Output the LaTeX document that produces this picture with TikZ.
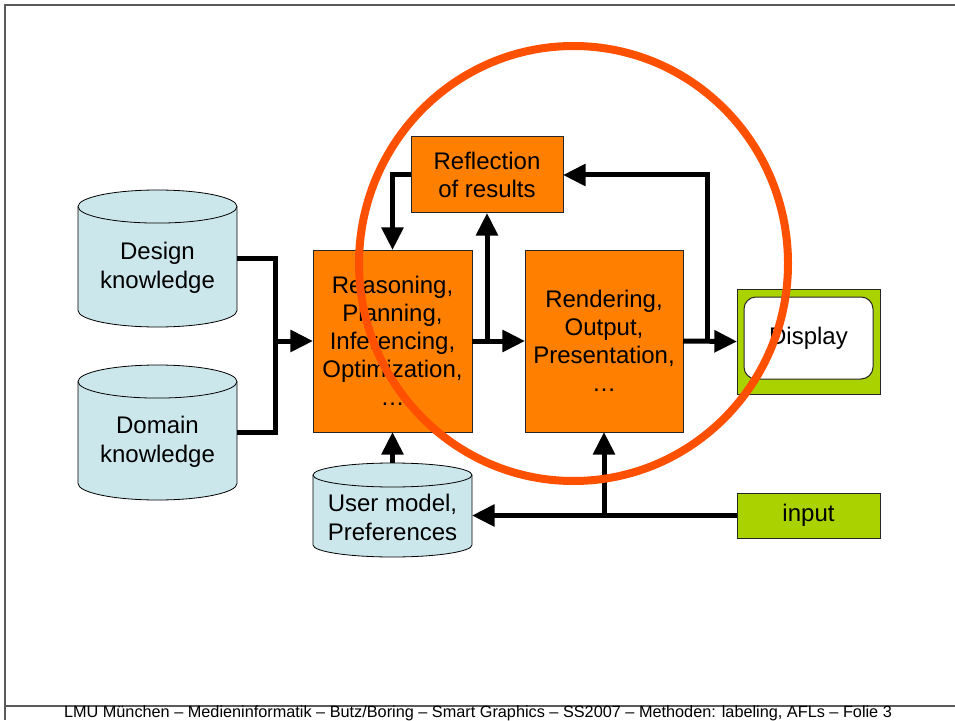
\documentclass[tikz,border=0pt]{standalone}
\usepackage{fontspec}
\setmainfont{Liberation Sans}
\usetikzlibrary{arrows.meta}

\definecolor{procorange}{RGB}{255,128,0}
\definecolor{dbblue}{RGB}{204,231,236}
\definecolor{iogreen}{RGB}{170,210,0}
\definecolor{ringred}{RGB}{255,80,0}
\definecolor{framegray}{RGB}{90,90,90}

% cylinder around a named node: #1 node, #2 y radius of the ends
\newcommand\dbcyl[2]{%
  \path[fill=dbblue,draw=black,line width=0.6pt] ([yshift=-#2]#1.north west) -- ([yshift=#2]#1.south west)
    arc[start angle=180,end angle=360,x radius=59.625pt,y radius=#2]
    -- ([yshift=-#2]#1.north east)
    arc[start angle=0,end angle=180,x radius=59.625pt,y radius=#2] -- cycle;
  \draw[line width=0.6pt] ([yshift=-#2]#1.north west)
    arc[start angle=180,end angle=360,x radius=59.625pt,y radius=#2];}
\newcommand\lowtext[1]{\raisebox{-7.5pt}[\height][\depth]{\renewcommand\arraystretch{1.04}\begin{tabular}{@{}c@{}}#1\end{tabular}}}

\begin{document}
\begin{tikzpicture}[x=0.75pt,y=-0.75pt,
  node font={\fontsize{18pt}{21pt}\selectfont},
  dbase/.style={shape=rectangle,minimum width=119.25pt,inner sep=0,outer sep=0},
  proc/.style={shape=rectangle,fill=procorange,draw=black!85,line width=0.75pt,align=center,inner sep=0,outer sep=0},
  io/.style={shape=rectangle,fill=iogreen,draw=black!85,line width=0.75pt,inner sep=0,outer sep=0},
  link/.style={line width=3.75pt},
  flow/.style={line width=3.75pt,-{Triangle[length=17pt,width=16pt]}}]
  \useasboundingbox (0,0) rectangle (955,720);
  % Slide frame
  \draw[framegray,line width=1.2pt] (955,5) -- (5,5) -- (5,720);
  \draw[framegray,line width=1.2pt] (5,706) -- (955,706);
  % Knowledge bases
  {\node[dbase,minimum height=102.75pt] (design) at (157.5,258.5) { };}
  {\node[dbase,minimum height=101.25pt] (domain) at (157.5,432.5) { };}
  {\node[dbase,minimum height=70.5pt] (user) at (392.5,510) { };}
  \dbcyl{design}{12.4pt}
  \dbcyl{domain}{12.4pt}
  \dbcyl{user}{9pt}
  {\node at (design) {\lowtext{Design\\knowledge}};}
  {\node at (domain) {\lowtext{Domain\\knowledge}};}
  {\node at (user) {\lowtext{User model,\\Preferences}};}
  % Processing
  {\node[proc,minimum width=119.25pt,minimum height=136.5pt] (reason) at (392.5,341) {Reasoning,\\Planning,\\Inferencing,\\Optimization,\\…};}
  {\node[proc,minimum width=118.5pt,minimum height=136.5pt] (render) at (604,341) {Rendering,\\Output,\\Presentation,\\…};}
  {\node[proc,minimum width=114pt,minimum height=57pt] (reflect) at (487,175) {Reflection\\of results};}
  % Display and input
  {\node[io,minimum width=107.25pt,minimum height=78.75pt] (display) at (808.5,341.5) { };}
  {\node[shape=rectangle,rounded corners=9pt,fill=white,draw=black!85,line width=0.75pt,minimum width=96.75pt,minimum height=61.5pt] (screen) at (808.5,338) {Display};}
  {\node[io,minimum width=107.25pt,minimum height=33.75pt] (input) at (808.5,515.5) {input};}
  % Connectors
  \coordinate (jl) at (275,341);
  \coordinate (jr) at (707,341);
  \draw[link] (design.east) -| (jl);
  \draw[link] (domain.east) -| (jl);
  \draw[flow] (jl) -- (reason.west);
  \draw[flow] (reason.east) -- (render.west);
  \draw[flow] (reflect.south |- reason.east) -- (reflect.south);
  \draw[flow] (reflect.west) -| (reason.north);
  \draw[flow] (render.east) -- (display.west);
  \draw[flow] (jr) |- (reflect.east);
  \draw[flow] (input.west) -- (input.west -| user.east);
  \draw[flow] (input.west -| render.south) -- (render.south);
  \draw[flow] (user.north) -- (reason.south);
  % Marked region
  \draw[ringred,line width=6pt] (573.5,263.5) ellipse [x radius=214.5,y radius=217.5];
  % Footer
  {\node (footer) at (478,713.5) {\fontsize{12.2pt}{14pt}\selectfont LMU München – Medieninformatik – Butz/Boring – Smart Graphics – SS2007 – Methoden: labeling, AFLs – Folie 3};}
\end{tikzpicture}
\end{document}
